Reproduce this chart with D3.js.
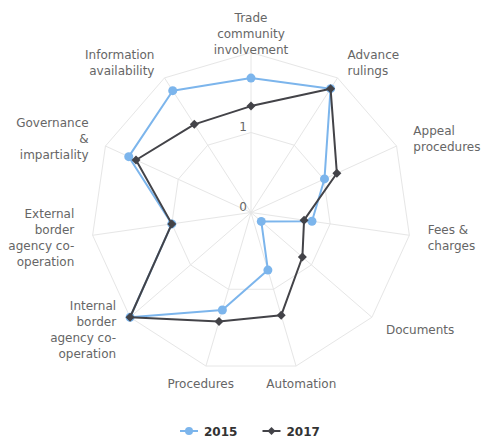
<!DOCTYPE html>
<html>
<head>
<meta charset="utf-8">
<script src="https://cdn.jsdelivr.net/npm/d3@7"></script>
<style>
  html, body { margin: 0; padding: 0; background: #fff; }
  svg { display: block; font-family: "DejaVu Sans", sans-serif; }
</style>
</head>
<body>
<div id="chart"></div>
<script>
// axis labels, line breaks as in the original chart
var categories = [
  "Trade\ncommunity\ninvolvement",
  "Advance\nrulings",
  "Appeal\nprocedures",
  "Fees &\ncharges",
  "Documents",
  "Automation",
  "Procedures",
  "Internal\nborder\nagency co-\noperation",
  "External\nborder\nagency co-\noperation",
  "Governance\n&\nimpartiality",
  "Information\navailability"
];

var values2015 = [1.68, 1.84, 1.01, 0.77, 0.17, 0.75, 1.27, 2.0, 1.0, 1.68, 1.81];
var values2017 = [1.33, 1.84, 1.18, 0.67, 0.85, 1.34, 1.42, 2.0, 1.0, 1.58, 1.31];

var yTicks = [0, 1, 2];
var yTickLabels = ["0", "1"];

var seriesNames = ["2015", "2017"];
var seriesColors = ["#7cb5ec", "#434348"];

var width = 481,
  height = 441,
  cx = 251,
  cy = 212.5,
  outerR = 160,
  labelR = 178.5;

var svg = d3.select("#chart").append("svg")
  .attr("width", width)
  .attr("height", height);

var n = categories.length;

var rScale = d3.scaleLinear().domain([0, 2]).range([0, outerR]);
var aScale = d3.scaleLinear().domain([0, n]).range([0, 2 * Math.PI]);

function pt(i, r) {
  var a = aScale(i);
  return [cx + r * Math.sin(a), cy - r * Math.cos(a)];
}

var g = svg.append("g");

// grid polygons
var grid = g.append("g").attr("class", "grid");
yTicks.filter(function(t) { return t > 0; }).forEach(function(t) {
  var pts = d3.range(n).map(function(i) { return pt(i, rScale(t)); });
  grid.append("polygon")
    .attr("points", pts.map(function(p) { return p.join(","); }).join(" "))
    .attr("fill", "none")
    .attr("stroke", "#e6e6e6")
    .attr("stroke-width", 1);
});

// spokes
d3.range(n).forEach(function(i) {
  var p = pt(i, outerR);
  grid.append("line")
    .attr("x1", cx).attr("y1", cy)
    .attr("x2", p[0]).attr("y2", p[1])
    .attr("stroke", "#e6e6e6")
    .attr("stroke-width", 1);
});

// y axis labels
yTickLabels.forEach(function(lbl, i) {
  g.append("text")
    .attr("x", cx - 4)
    .attr("y", cy - rScale(yTicks[i]) - 2)
    .attr("text-anchor", "end")
    .attr("font-size", 12)
    .attr("fill", "#666")
    .text(lbl);
});

// category labels
categories.forEach(function(c, i) {
  var p = pt(i, labelR);
  var deg = aScale(i) * 180 / Math.PI;
  var anchor = "middle";
  if (deg > 20 && deg < 160) anchor = "start";
  else if (deg > 200 && deg < 340) anchor = "end";
  var lines = c.split("\n");
  var lh = 16;
  var firstY = p[1] - (lines.length - 1) * lh / 2 + 4.3;
  var t = g.append("text")
    .attr("text-anchor", anchor)
    .attr("font-size", 12)
    .attr("fill", "#666");
  lines.forEach(function(l, k) {
    t.append("tspan")
      .attr("x", p[0])
      .attr("y", firstY + k * lh)
      .text(l);
  });
});

var line = d3.lineRadial()
  .angle(function(d, i) { return aScale(i); })
  .radius(function(d) { return rScale(d); })
  .curve(d3.curveLinearClosed);

function diamond(x, y, r) {
  return "M" + x + "," + (y - r) + "L" + (x + r) + "," + y + "L" + x + "," + (y + r) + "L" + (x - r) + "," + y + "Z";
}

[values2015, values2017].forEach(function(vals, s) {
  var sg = g.append("g");
  sg.append("path")
    .attr("transform", "translate(" + cx + "," + cy + ")")
    .attr("d", line(vals))
    .attr("fill", "none")
    .attr("stroke", seriesColors[s])
    .attr("stroke-width", 2)
    .attr("stroke-linejoin", "round");
  vals.forEach(function(v, i) {
    var p = pt(i, rScale(v));
    if (s === 0) {
      sg.append("circle").attr("cx", p[0]).attr("cy", p[1]).attr("r", 4.5).attr("fill", seriesColors[s]);
    } else {
      sg.append("path").attr("d", diamond(p[0], p[1], 4.5)).attr("fill", seriesColors[s]);
    }
  });
});

// legend
var legendX = [180, 262.5];
var legendY = 431;
seriesNames.forEach(function(name, s) {
  var lg = svg.append("g").attr("transform", "translate(" + legendX[s] + "," + legendY + ")");
  lg.append("line")
    .attr("x1", 0).attr("x2", 18).attr("y1", 0).attr("y2", 0)
    .attr("stroke", seriesColors[s]).attr("stroke-width", 2);
  if (s === 0) {
    lg.append("circle").attr("cx", 9).attr("cy", 0).attr("r", 4).attr("fill", seriesColors[s]);
  } else {
    lg.append("path").attr("d", diamond(9, 0, 4)).attr("fill", seriesColors[s]);
  }
  lg.append("text")
    .attr("x", 24)
    .attr("y", 4.5)
    .attr("font-size", 12)
    .attr("font-weight", "bold")
    .attr("fill", "#333")
    .text(name);
});
</script>
</body>
</html>
